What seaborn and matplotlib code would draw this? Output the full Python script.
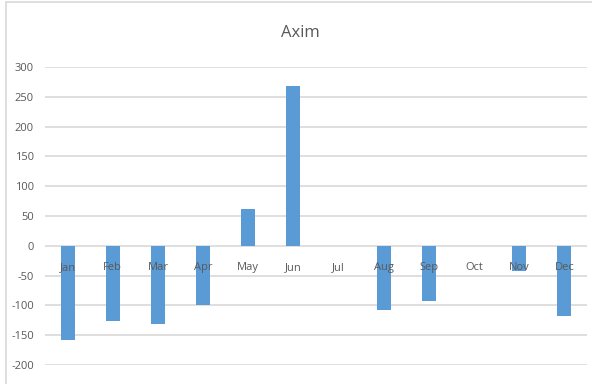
import matplotlib
matplotlib.use("Agg")
import matplotlib.pyplot as plt
from matplotlib.lines import Line2D
import seaborn as sns
import pandas as pd

months = ["Jan", "Feb", "Mar", "Apr", "May", "Jun",
          "Jul", "Aug", "Sep", "Oct", "Nov", "Dec"]
values = [-158, -126, -132, -99, 62, 268, 0, -108, -92, 0, -43, -118]
y_ticks = [300, 250, 200, 150, 100, 50, 0, -50, -100, -150, -200]
title = "Axim"

bar_color = "#5B9BD5"
grid_color = "#D9D9D9"
text_color = "#595959"

sns.set_theme(style="white")
plt.rcParams["font.family"] = ["Open Sans", "DejaVu Sans"]

df = pd.DataFrame({"month": months, "value": values})

fig = plt.figure(figsize=(5.92, 3.84), dpi=100)
ax = fig.add_axes([45 / 592, 1 - 365 / 384, (587 - 45) / 592, (365 - 67) / 384])

sns.barplot(data=df, x="month", y="value", color=bar_color, width=0.31,
            saturation=1, linewidth=0, ax=ax, zorder=3)

ax.set_ylim(-200, 300)
ax.set_yticks(y_ticks)
ax.set_yticklabels([str(v) for v in y_ticks], color=text_color, fontsize=8)
ax.yaxis.grid(True, color=grid_color, linewidth=1.2, zorder=0)
ax.set_axisbelow(True)

for s in ["top", "right", "left", "bottom"]:
    ax.spines[s].set_visible(False)
ax.tick_params(axis="y", length=0, pad=8)
ax.set_xticks([])
ax.set_xlabel("")
ax.set_ylabel("")
ax.set_xlim(-0.5, len(months) - 0.5)

# month labels sit just under the zero line, drawn over the bars
for i, m in enumerate(months):
    ax.annotate(m, xy=(i, 0), xytext=(0, -15.5), textcoords="offset points",
                ha="center", va="center", fontsize=8, color=text_color,
                zorder=6, annotation_clip=False)

fig.text(300 / 592, 1 - 33 / 384, title, ha="center", va="center",
         fontsize=12, color=text_color)

# chart frame edges
fig.add_artist(Line2D([6 / 592, 6 / 592], [0, 1 - 2 / 384],
                      transform=fig.transFigure, color=grid_color, linewidth=1.2))
fig.add_artist(Line2D([6 / 592, 1], [1 - 2 / 384, 1 - 2 / 384],
                      transform=fig.transFigure, color=grid_color, linewidth=1.2))

fig.savefig("out.png", dpi=100)
